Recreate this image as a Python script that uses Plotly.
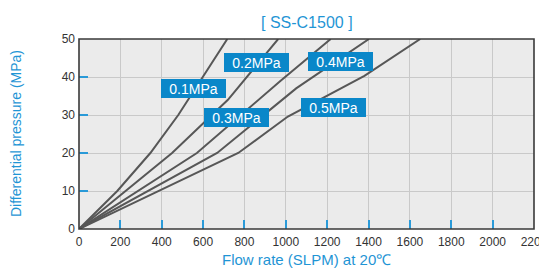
import plotly.graph_objects as go

# ---- data ----
flow_01 = [0, 185, 345, 480, 717]
dp_01 = [0, 10, 20, 30, 50]
flow_02 = [0, 450, 720, 963]
dp_02 = [0, 20, 34, 50]
flow_03 = [0, 570, 975, 1217]
dp_03 = [0, 20, 39, 50]
flow_04 = [0, 668, 1050, 1402]
dp_04 = [0, 20, 37, 50]
flow_05 = [0, 770, 1010, 1380, 1650]
dp_05 = [0, 20, 29.6, 40.3, 50]

series_names = ["0.1MPa", "0.2MPa", "0.3MPa", "0.4MPa", "0.5MPa"]
series_x = [flow_01, flow_02, flow_03, flow_04, flow_05]
series_y = [dp_01, dp_02, dp_03, dp_04, dp_05]

# label positions (data coords)
label_x = [556, 859, 762, 1262, 1229]
label_y = [36.9, 43.9, 29.3, 44.0, 32.0]

x_ticks = list(range(0, 2201, 200))
y_ticks = list(range(0, 51, 10))

title_text = "[ SS-C1500 ]"
x_title = "Flow rate (SLPM) at 20℃"
y_title = "Differential pressure (MPa)"

BLUE_TXT = "#1f95d5"
BLUE_BOX = "#0a87c9"
LINE_C = "#575757"
FONT = "Liberation Sans, Arial, sans-serif"

fig = go.Figure()
for name, xs, ys in zip(series_names, series_x, series_y):
    fig.add_trace(go.Scatter(x=xs, y=ys, mode="lines", name=name,
                             line=dict(color=LINE_C, width=2), showlegend=False,
                             hoverinfo="skip"))

for name, lx, ly in zip(series_names, label_x, label_y):
    fig.add_annotation(x=lx, y=ly, xref="x", yref="y", text=name, showarrow=False,
                       font=dict(family=FONT, size=14, color="white"),
                       bgcolor=BLUE_BOX, width=65, height=19, borderpad=0,
                       borderwidth=0, align="center", valign="middle")

fig.add_annotation(x=0.5, y=1, xref="paper", yref="paper", yshift=6,
                   text=title_text, showarrow=False, yanchor="bottom",
                   font=dict(family=FONT, size=16, color=BLUE_TXT))
fig.add_annotation(x=0.5, y=0, xref="paper", yref="paper", yshift=-20,
                   text=x_title, showarrow=False, yanchor="top",
                   font=dict(family=FONT, size=15, color=BLUE_TXT))
fig.add_annotation(x=0, y=0.5, xref="paper", yref="paper", xshift=-63,
                   xanchor="center", yanchor="middle",
                   text=y_title, showarrow=False, textangle=-90,
                   font=dict(family=FONT, size=14, color=BLUE_TXT))

# frame on top
fig.add_shape(type="rect", xref="paper", yref="paper", x0=0, y0=0, x1=1, y1=1,
              line=dict(color="#3a3a3a", width=1.6), layer="above")

# page has an 8px body margin, so the figure is sized/offset to compensate
fig.update_layout(
    width=539, height=261,
    margin=dict(l=71, r=13, t=31, b=40, autoexpand=False),
    paper_bgcolor="white", plot_bgcolor="#ebebeb",
    font=dict(family=FONT, size=12, color="#333333"),
    showlegend=False,
)
fig.update_xaxes(range=[0, 2200], tickvals=x_ticks, ticktext=[str(v) for v in x_ticks],
                 showgrid=True, gridcolor="#c9c9c9", gridwidth=1,
                 ticks="inside", ticklen=9, tickcolor="#2a9ad8", tickwidth=1.5,
                 zeroline=False, showline=False, ticklabelstandoff=4,
                 ticklabeloverflow="allow", automargin=False,
                 tickfont=dict(family=FONT, size=12, color="#333333"))
fig.update_yaxes(range=[0, 50], tickvals=y_ticks, ticktext=[str(v) for v in y_ticks],
                 showgrid=True, gridcolor="#c9c9c9", gridwidth=1,
                 ticks="inside", ticklen=9, tickcolor="#2a9ad8", tickwidth=1.5,
                 zeroline=False, showline=False, ticklabelstandoff=3,
                 automargin=False,
                 tickfont=dict(family=FONT, size=12, color="#333333"))

fig.write_html("out.html")
